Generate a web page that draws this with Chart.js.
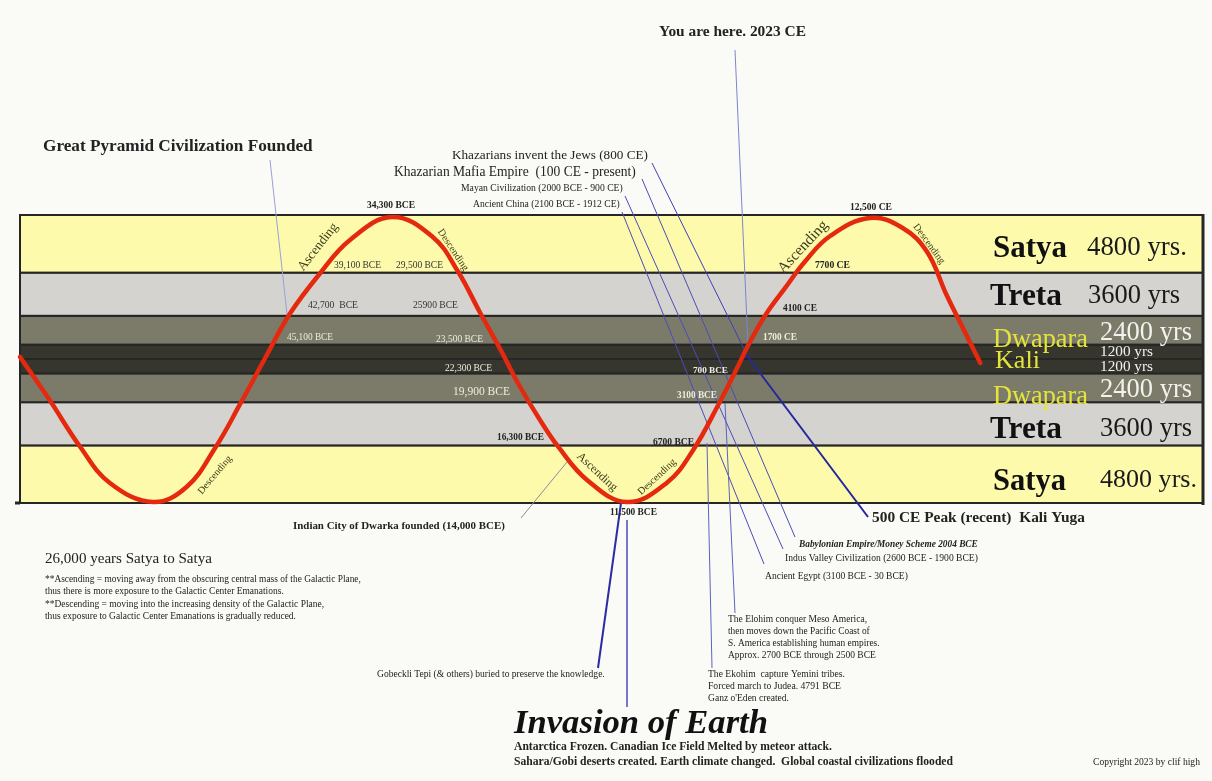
<!DOCTYPE html>
<html lang="en">
<head>
<meta charset="UTF-8">
<title>26,000 years Satya to Satya</title>
<script src="https://cdn.jsdelivr.net/npm/chart.js"></script>
<style>
  body { margin: 0; background: #fafaf6; }
  #wrap { width: 1212px; height: 781px; }
</style>
</head>
<body>
<div id="wrap"><canvas id="myChart" width="1212" height="781"></canvas></div>
<script>
// the wave: x = year (negative = BCE), y = level counted in yuga-years from the bottom
const waveYears = [-70700, -67800, -64800, -61900, -57700, -54400, -51600, -49200, -46700, -44300,
  -41300, -38400, -34300, -30300, -27800, -25700, -23700, -21800, -19800, -18000,
  -15200, -11300, -7400, -4800, -2200, -700, 750, 2400, 4200, 6100,
  8600, 12500, 15700, 18100, 20000, 21600, 23300]
const waveLevels = [12170, 8580, 4670, 1670, 80, 1330, 4580, 8170, 12080, 15750,
  19170, 21920, 23830, 22170, 19250, 15920, 12830, 9750, 6920, 4670,
  1920, 80, 1670, 4420, 8420, 10920, 13420, 15830, 17920, 20080,
  22250, 23750, 22920, 20920, 17330, 14580, 11670]

// bands from the bottom up
const yugaNames = ['Satya', 'Treta', 'Dwapara', 'Kali', 'Kali', 'Dwapara', 'Treta', 'Satya']
const yugaYears = [4800, 3600, 2400, 1200, 1200, 2400, 3600, 4800]
const yugaLabels = ['4800 yrs.', '3600 yrs', '2400 yrs', '1200 yrs', '1200 yrs', '2400 yrs', '3600 yrs', '4800 yrs.']

const yugaFill = { Satya: '#fdfbab', Treta: '#d4d3cf', Dwapara: '#7c7b69', Kali: '#36362f' }
const nameStyle = {
  Satya: ['bold', '#111'], Treta: ['bold', '#111'],
  Dwapara: ['', '#e4e43a'], Kali: ['', '#e4e43a']
}
const yrsColor = { Satya: '#1a1a1a', Treta: '#1a1a1a', Dwapara: '#f2f2ee', Kali: '#f2f2ee' }
// per band: name x, name width, years x, years width, baseline nudge
const bandText = [
  [993, 73, 1100, 97, 4], [990, 72, 1100, 92, 3], [993, 95, 1100, 92, 1], [995, 45, 1100, 53, 0],
  [995, 45, 1100, 53, 0], [993, 95, 1100, 92, 2], [990, 72, 1088, 92, 0], [993, 74, 1087, 100, 2]
]

const FAM = '"Liberation Serif", "Times New Roman", serif'
const DARK = '#222', LIGHT = '#ececdf', ROT = '#3c3c1c'

// text, x, baseline, width, style, colour
const notes = [
  ['You are here. 2023 CE', 659, 36, 147, 'bold', DARK],
  ['Great Pyramid Civilization Founded', 43, 151, 270, 'bold', DARK],
  ['Khazarians invent the Jews (800 CE)', 452, 159, 196, '', DARK],
  ['Khazarian Mafia Empire  (100 CE - present)', 394, 176, 242, '', DARK],
  ['Mayan Civilization (2000 BCE - 900 CE)', 461, 191, 162, '', DARK],
  ['Ancient China (2100 BCE - 1912 CE)', 473, 207, 147, '', DARK],
  ['34,300 BCE', 367, 208, 48, 'bold', DARK],
  ['39,100 BCE', 334, 268, 47, '', '#333'],
  ['29,500 BCE', 396, 268, 47, '', '#333'],
  ['42,700  BCE', 308, 308, 50, '', '#333'],
  ['25900 BCE', 413, 308, 45, '', '#333'],
  ['45,100 BCE', 287, 340, 46, '', LIGHT],
  ['23,500 BCE', 436, 342, 47, '', LIGHT],
  ['22,300 BCE', 445, 371, 47, '', LIGHT],
  ['19,900 BCE', 453, 395, 57, '', LIGHT],
  ['16,300 BCE', 497, 440, 47, 'bold', DARK],
  ['11,500 BCE', 610, 515, 47, 'bold', DARK],
  ['6700 BCE', 653, 445, 41, 'bold', DARK],
  ['3100 BCE', 677, 398, 40, 'bold', LIGHT],
  ['700 BCE', 693, 373, 35, 'bold', LIGHT],
  ['1700 CE', 763, 340, 34, 'bold', LIGHT],
  ['4100 CE', 783, 311, 34, 'bold', DARK],
  ['7700 CE', 815, 268, 35, 'bold', DARK],
  ['12,500 CE', 850, 210, 42, 'bold', DARK],
  ['Indian City of Dwarka founded (14,000 BCE)', 293, 529, 212, 'bold', DARK],
  ['500 CE Peak (recent)  Kali Yuga', 872, 522, 213, 'bold', DARK],
  ['Babylonian Empire/Money Scheme 2004 BCE', 799, 547, 179, 'italic bold', DARK],
  ['Indus Valley Civilization (2600 BCE - 1900 BCE)', 785, 561, 193, '', DARK],
  ['Ancient Egypt (3100 BCE - 30 BCE)', 765, 579, 143, '', DARK],
  ['The Elohim conquer Meso America,', 728, 622, 139, '', DARK],
  ['then moves down the Pacific Coast of', 728, 634, 142, '', DARK],
  ['S. America establishing human empires.', 728, 646, 152, '', DARK],
  ['Approx. 2700 BCE through 2500 BCE', 728, 658, 148, '', DARK],
  ['The Ekohim  capture Yemini tribes.', 708, 677, 137, '', DARK],
  ['Forced march to Judea. 4791 BCE', 708, 689, 133, '', DARK],
  ["Ganz o'Eden created.", 708, 701, 81, '', DARK],
  ['Gobeckli Tepi (& others) buried to preserve the knowledge.', 377, 677, 228, '', DARK],
  ['26,000 years Satya to Satya', 45, 563, 167, '', DARK],
  ['**Ascending = moving away from the obscuring central mass of the Galactic Plane,', 45, 582, 316, '', DARK],
  ['thus there is more exposure to the Galactic Center Emanations.', 45, 594, 239, '', DARK],
  ['**Descending = moving into the increasing density of the Galactic Plane,', 45, 607, 279, '', DARK],
  ['thus exposure to Galactic Center Emanations is gradually reduced.', 45, 619, 251, '', DARK],
  ['Invasion of Earth', 514, 733, 254, 'italic bold', '#111'],
  ['Antarctica Frozen. Canadian Ice Field Melted by meteor attack.', 514, 750, 318, 'bold', DARK],
  ['Sahara/Gobi deserts created. Earth climate changed.  Global coastal civilizations flooded', 514, 765, 439, 'bold', DARK],
  ['Copyright 2023 by clif high', 1093, 765, 107, '', DARK]
]

// rotated words along the wave: text, centre x, centre y, angle (deg), length
const slanted = [
  ['Ascending', 318, 247, -52, 57],
  ['Descending', 453, 250, 56, 48],
  ['Descending', 215, 475, -50, 47],
  ['Ascending', 597, 472, 43, 51],
  ['Descending', 657, 477, -43, 48],
  ['Ascending', 803, 247, -47, 66],
  ['Descending', 929, 244, 54, 47]
]

// leader lines: x1, y1, x2, y2, width, colour
const leaders = [
  [735, 50, 748, 346, 1, '#7d84d2'],
  [270, 160, 287, 314, 1, '#9aa0d6'],
  [652, 163, 748, 357, 1, '#3e40b4'],
  [745, 353, 868, 517, 2, '#26279a'],
  [642, 179, 795, 537, 1, '#4a4cb8'],
  [625, 196, 783, 549, 1, '#4a4cb8'],
  [622, 212, 764, 564, 1, '#4a4cb8'],
  [725, 403, 735, 613, 1, '#5d62c0'],
  [707, 443, 712, 668, 1, '#5d62c0'],
  [621, 503, 598, 668, 2, '#2a2ca4'],
  [627, 520, 627, 707, 1.5, '#4a4cc0'],
  [567, 462, 521, 518, 1, '#8a8a9a']
]

function fitText(ctx, text, x, y, w, style, color) {
  ctx.font = style + ' 20px ' + FAM
  const size = 20 * w / ctx.measureText(text).width
  ctx.font = style + ' ' + size.toFixed(2) + 'px ' + FAM
  ctx.fillStyle = color
  ctx.fillText(text, x, y)
}

const bandsPlugin = {
  id: 'bands',
  beforeDatasetsDraw(chart) {
    const { ctx, chartArea: a, scales: { y } } = chart
    ctx.save()
    let lo = 0
    yugaYears.forEach((d, i) => {
      const top = y.getPixelForValue(lo + d), bot = y.getPixelForValue(lo)
      ctx.fillStyle = yugaFill[yugaNames[i]]
      ctx.fillRect(a.left, top, a.width, bot - top)
      ctx.strokeStyle = '#262626'
      ctx.lineWidth = 2
      ctx.strokeRect(a.left, top, a.width, bot - top)
      lo += d
    })
    ctx.lineWidth = 3
    ctx.beginPath()
    ctx.moveTo(a.right, a.top - 1)
    ctx.lineTo(a.right, a.bottom + 2)
    ctx.moveTo(a.left - 5, a.bottom)
    ctx.lineTo(a.left, a.bottom)
    ctx.stroke()

    leaders.forEach(l => {
      ctx.strokeStyle = l[5]
      ctx.lineWidth = l[4]
      ctx.beginPath()
      ctx.moveTo(l[0], l[1])
      ctx.lineTo(l[2], l[3])
      ctx.stroke()
    })
    ctx.restore()
  },
  afterDraw(chart) {
    const { ctx, scales: { y } } = chart
    ctx.save()
    ctx.textBaseline = 'alphabetic'
    ctx.textAlign = 'left'
    let lo = 0
    yugaYears.forEach((d, i) => {
      const name = yugaNames[i]
      const mid = y.getPixelForValue(lo + d / 2)
      const bt = bandText[i]
      if (name !== 'Kali') {
        const nameW = bt[1]
        fitText(ctx, name, bt[0], mid + nameW * 0.155 + bt[4], nameW, nameStyle[name][0], nameStyle[name][1])
        fitText(ctx, yugaLabels[i], bt[2], mid + 9 + bt[4] - (name === 'Dwapara' ? 1 : 0), bt[3], '', yrsColor[name])
      } else {
        fitText(ctx, yugaLabels[i], bt[2], mid + 4.5, bt[3], '', yrsColor[name])
        if (i === 3) {
          const between = y.getPixelForValue(lo + d)
          fitText(ctx, name, bt[0], between + 9, bt[1], '', nameStyle[name][1])
        }
      }
      lo += d
    })

    notes.forEach(n => fitText(ctx, n[0], n[1], n[2], n[3], n[4], n[5]))

    ctx.textAlign = 'center'
    ctx.textBaseline = 'middle'
    slanted.forEach(s => {
      ctx.save()
      ctx.translate(s[1], s[2])
      ctx.rotate(s[3] * Math.PI / 180)
      fitText(ctx, s[0], 0, 0, s[4], '', ROT)
      ctx.restore()
    })
    ctx.restore()
  }
}

const ctx = document.getElementById('myChart').getContext('2d')
new Chart(ctx, {
  type: 'scatter',
  data: {
    datasets: [{
      data: waveYears.map((x, i) => ({ x: x, y: waveLevels[i] })),
      showLine: true,
      borderColor: '#e4290f',
      borderWidth: 4.5,
      borderCapStyle: 'round',
      pointRadius: 0,
      tension: 0.4,
      clip: false
    }]
  },
  options: {
    responsive: false,
    animation: false,
    layout: { padding: { left: 20, right: 9, top: 215, bottom: 278 } },
    plugins: { legend: { display: false }, tooltip: { enabled: false } },
    scales: {
      x: { type: 'linear', display: false, min: -70700, max: 45100 },
      y: { type: 'linear', display: false, min: 0, max: 24000 }
    }
  },
  plugins: [bandsPlugin]
})
</script>
</body>
</html>
